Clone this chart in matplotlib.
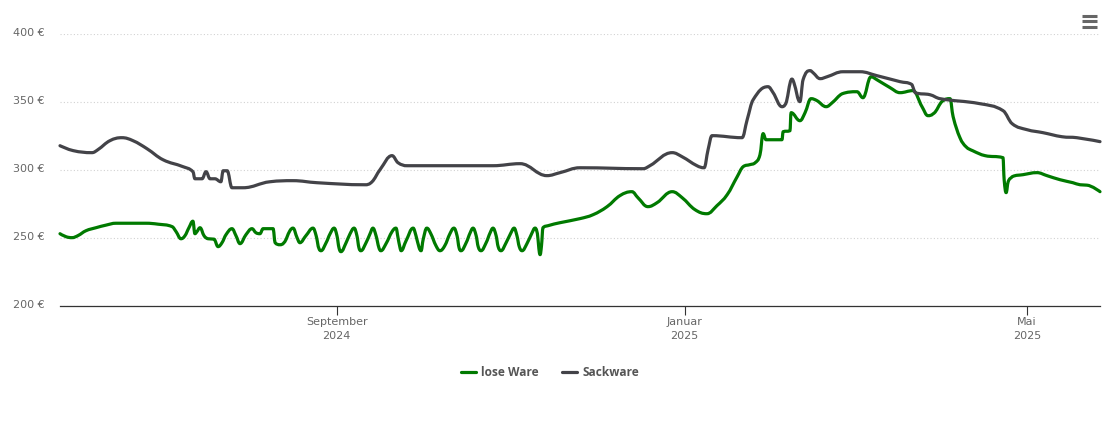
import matplotlib
matplotlib.use("Agg")
import matplotlib.pyplot as plt
import matplotlib.dates as mdates
from matplotlib.lines import Line2D
from matplotlib.patches import PathPatch
from matplotlib.path import Path
from matplotlib.transforms import ScaledTranslation
import numpy as np
import pandas as pd

START = pd.Timestamp("2024-05-27")
series_names = ["lose Ware", "Sackware"]
y_ticks = [200, 250, 300, 350, 400]
x_tick_dates = ["2024-09-01", "2025-01-01", "2025-05-01"]
x_tick_labels = ["September\n2024", "Januar\n2025", "Mai\n2025"]

lose_days = [0,2.1,4.2,6.3,9.1,12.6,16.1,19.6,24.5,30.1,34.4,39.3,40.7,42.4,43.8,45.2,46.6,47.3,48.0,49.1,50.5,51.9,54.0,55.4,56.8,58.2,60.3,61.7,63.1,65.2,67.3,68.7,70.1,71.2,74.7,75.4,77.1,78.5,80.6,81.7,83.1,84.1,86.2,88.7,89.8,90.8,91.5,93.3,94.7,96.1,97.1,97.8,98.5,100.3,101.7,103.1,104.1,104.8,105.5,107.3,108.7,109.7,110.8,111.8,112.5,114.3,116.4,117.8,118.5,119.2,119.6,121.3,123.8,124.8,125.9,126.6,127.3,128.6,130.0,131.8,133.2,134.9,136.7,138.1,139.2,139.9,140.6,142.4,143.8,144.8,145.9,146.6,147.6,149.4,150.8,151.8,152.9,153.6,154.6,156.4,158.1,159.2,160.2,161.0,162.0,163.7,165.5,166.5,167.2,168.3,168.8,169.3,171.1,175.3,182.3,186.9,191.8,196.3,200.5,202.6,206.1,209.3,214.6,218.1,222.6,226.8,230.3,233.9,237.4,239.5,241.9,243.7,245.4,246.5,247.5,253.1,253.5,255.9,256.3,259.4,261.2,263.3,265.4,268.6,270.7,274.2,279.4,281.5,284.3,286.4,291.0,294.5,299.0,302.2,304.3,306.1,309.6,312.0,313.1,315.5,317.6,320.0,324.3,330.6,331.0,331.7,332.4,333.8,337.6,342.5,346.0,350.6,355.1,357.6,360.0,364.6]
lose_eur = [253.3,251.1,250.4,251.9,255.5,257.7,259.6,261.0,261.0,261.0,260.3,258.5,254.8,249.6,251.8,257.7,262.5,253.3,254.8,257.7,251.8,249.6,249.3,243.8,246.7,252.6,257.0,251.8,246.0,252.6,257.0,254.0,253.3,257.0,257.0,246.7,245.2,246.7,255.5,257.4,250.4,246.7,251.8,257.4,251.8,242.3,240.8,246.7,253.3,257.4,251.8,243.0,240.1,246.7,253.3,257.4,251.8,243.0,240.8,246.7,253.3,257.4,251.8,243.0,240.8,246.0,254.8,257.4,250.4,243.0,240.8,248.0,257.4,251.8,243.0,240.8,248.9,257.4,253.3,244.5,240.8,244.5,253.3,257.4,251.8,243.0,240.8,246.7,254.0,257.4,251.8,243.8,240.8,246.7,254.0,257.4,251.8,243.8,240.8,246.7,254.0,257.4,251.8,243.8,240.8,246.0,254.0,257.4,254.8,237.9,244.5,257.7,259.2,261.4,264.4,267.3,273.2,281.3,284.2,279.8,273.2,276.1,284.2,279.8,271.0,268.0,273.9,282.0,295.2,302.6,304.1,305.5,311.4,326.9,322.4,322.4,328.3,329.0,342.3,336.4,342.3,352.6,351.1,346.7,349.6,356.2,357.7,353.3,368.7,366.5,360.7,357.0,358.5,346.7,340.1,341.5,351.1,352.6,339.4,323.9,317.3,314.3,310.7,309.2,293.0,283.5,291.5,295.2,296.7,298.2,296.0,293.0,290.8,289.3,289.0,284.2]

sack_days = [0,4.6,11.2,13.3,17.5,21.7,25.6,30.5,36.1,43.1,46.6,47.3,49.8,51.2,52.6,54.3,56.4,57.2,58.6,60.3,64.2,73.6,81.7,90.1,106.9,109.4,112.2,116.4,118.5,121.7,151.8,161.3,170.7,175.3,182.3,204.4,206.8,214.6,218.1,223.3,225.8,227.2,228.6,239.1,240.9,243.0,248.2,250.0,253.1,254.2,256.6,257.3,259.4,260.5,263.0,264.0,266.5,268.9,274.5,280.5,286.4,294.5,298.7,299.8,305.0,308.5,322.5,330.6,333.8,339.0,344.6,351.3,356.5,364.6]
sack_eur = [318.0,314.4,312.9,315.1,321.7,323.9,321.7,315.8,307.7,302.6,298.9,293.7,293.7,298.9,293.7,293.7,291.5,299.6,299.6,287.1,287.1,291.5,292.3,290.8,289.3,291.5,300.4,310.7,305.5,303.3,303.3,304.8,296.0,298.2,301.8,301.1,303.3,312.9,309.9,303.3,301.8,315.1,325.4,323.9,337.1,351.8,361.4,357.0,346.7,348.2,367.0,364.3,350.4,366.5,373.2,371.7,367.3,368.7,372.4,372.4,369.5,365.1,362.9,357.0,355.5,352.6,348.9,343.8,334.2,329.8,327.6,324.6,323.9,321.0]

W, H = 1110, 423
GREEN, GREY, TXT = "#007a00", "#434348", "#666666"

fig = plt.figure(figsize=(W/100, H/100), dpi=100, facecolor="white")
ax = fig.add_axes([60/W, (H-306.2)/H, 1040/W, 272/H])


def spline_path(days, values, smoothing=1.5):
    """Cubic path through the values, with control points placed like a Highcharts spline."""
    x = mdates.date2num(START + pd.to_timedelta(np.asarray(days, float), unit="D"))
    y = np.asarray(values, float)
    n = len(x)
    d = smoothing + 1
    lx, ly, rx, ry = x.copy(), y.copy(), x.copy(), y.copy()
    for i in range(1, n - 1):
        lx[i] = (smoothing * x[i] + x[i-1]) / d
        ly[i] = (smoothing * y[i] + y[i-1]) / d
        rx[i] = (smoothing * x[i] + x[i+1]) / d
        ry[i] = (smoothing * y[i] + y[i+1]) / d
        if rx[i] != lx[i]:
            corr = (ry[i] - ly[i]) * (rx[i] - x[i]) / (rx[i] - lx[i]) + y[i] - ry[i]
            ly[i] += corr
            ry[i] += corr
        if ly[i] > y[i] and ly[i] > y[i-1]:
            ly[i] = max(y[i], y[i-1])
            ry[i] = 2 * y[i] - ly[i]
        elif ly[i] < y[i] and ly[i] < y[i-1]:
            ly[i] = min(y[i], y[i-1])
            ry[i] = 2 * y[i] - ly[i]
        if ry[i] > y[i] and ry[i] > y[i+1]:
            ry[i] = max(y[i], y[i+1])
            ly[i] = 2 * y[i] - ry[i]
        elif ry[i] < y[i] and ry[i] < y[i+1]:
            ry[i] = min(y[i], y[i+1])
            ly[i] = 2 * y[i] - ry[i]
    verts = [(x[0], y[0])]
    codes = [Path.MOVETO]
    for i in range(1, n):
        verts += [(rx[i-1], ry[i-1]), (lx[i], ly[i]), (x[i], y[i])]
        codes += [Path.CURVE4] * 3
    return Path(verts, codes)


for days, vals, col in ((lose_days, lose_eur, GREEN), (sack_days, sack_eur, GREY)):
    ax.add_patch(PathPatch(spline_path(days, vals), fill=False, edgecolor=col, lw=2.3,
                           joinstyle="round", capstyle="round", clip_on=False, zorder=3))

x0 = mdates.date2num(START)
ax.set_xlim(x0, x0 + 364.6)
ax.set_ylim(200, 400)
ax.set_yticks(y_ticks)
ax.set_yticklabels([f"{v} €" for v in y_ticks], fontsize=8, color=TXT, va="center")
ax.set_xticks(mdates.date2num(pd.to_datetime(x_tick_dates)))
ax.set_xticklabels(x_tick_labels, fontsize=8, color=TXT, linespacing=1.4)
ax.tick_params(axis="y", length=0, pad=11)
up = ScaledTranslation(0, 1/100, fig.dpi_scale_trans)
for lab in ax.get_yticklabels():
    lab.set_transform(lab.get_transform() + up)
ax.tick_params(axis="x", length=6.6, width=0.8, color="#333333", pad=1.5)
ax.grid(axis="y", color="#d2d2d2", lw=0.8, ls=(0, (1, 2)))
ax.set_axisbelow(True)
for s in ("top", "left", "right"):
    ax.spines[s].set_visible(False)
ax.spines["bottom"].set_color("#333333")
ax.spines["bottom"].set_linewidth(0.9)

handles = [Line2D([], [], color=GREEN, lw=2.3, solid_capstyle="round"),
           Line2D([], [], color=GREY, lw=2.3, solid_capstyle="round")]
fig.legend(handles, series_names, loc="center", bbox_to_anchor=(550/W, (H-372.5)/H), ncols=2,
           frameon=False, prop={"family": "Open Sans", "size": 8.6, "weight": "bold"},
           handlelength=1.22, handletextpad=0.45, columnspacing=1.95, labelcolor="#555555")

# menu icon
for yy in (16, 21.5, 27):
    fig.add_artist(Line2D([1081.5/W, 1096.5/W], [(H-yy)/H]*2, color=TXT, lw=2.2,
                          solid_capstyle="butt"))

fig.savefig("out.png", dpi=100)
